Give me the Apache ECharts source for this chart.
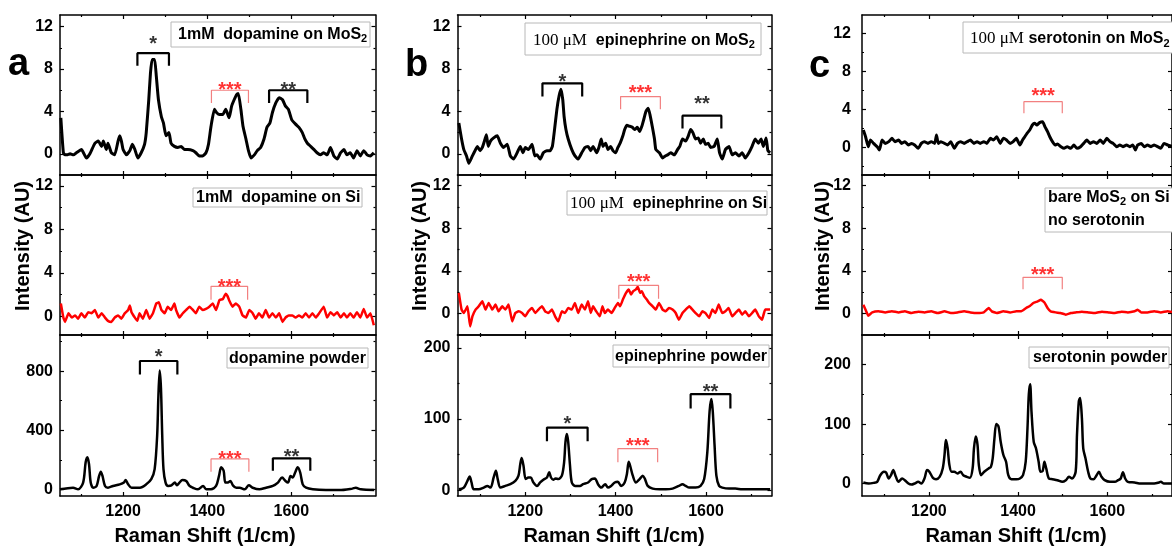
<!DOCTYPE html>
<html><head><meta charset="utf-8">
<script src="https://cdn.jsdelivr.net/npm/echarts@6/dist/echarts.min.js"></script>
<style>html,body{margin:0;padding:0;background:#fff}#c{width:1172px;height:552px}</style>
</head><body><div id="c"></div>
<script>
// ---------------- DATA ----------------
// Tick labels
const xMajorTicks = [1200, 1400, 1600];
const xMinorTicks = [1100, 1300, 1500, 1700];
const yMajorSmall = [0, 4, 8, 12];
const yMinorSmall = [-2, 2, 6, 10];
const yMajorDopPowder = [0, 400, 800];
const yMinorDopPowder = [200, 600, 1000];
const yMajorPowder = [0, 100, 200];
const yMinorPowder = [50, 150];

// (a) 1mM dopamine on MoS2
const aTopX = [1052,1058,1062,1066,1074,1082,1089,1101,1113,1121,
1133,1141,1149,1153,1160,1164,1172,1180,1188,1192,
1196,1200,1208,1216,1222,1228,1235,1243,1251,1255,
1261,1265,1269,1275,1279,1284,1291,1296,1302,1309,
1314,1322,1330,1338,1346,1354,1366,1373,1381,1389,
1397,1403,1409,1417,1422,1429,1437,1444,1452,1458,
1464,1470,1474,1480,1485,1492,1498,1504,1512,1519,
1527,1535,1542,1549,1555,1563,1571,1579,1586,1593,
1601,1610,1618,1626,1632,1638,1646,1654,1661,1669,
1677,1685,1693,1701,1709,1717,1725,1732,1740,1748,
1756,1764,1772,1780,1788,1796];
const aTopY = [3.4,0.1,-0.1,-0.1,0.0,-0.1,0.1,0.4,-0.4,0.0,
1.0,1.2,0.7,1.2,0.4,1.0,0.1,-0.1,1.2,1.7,
1.2,0.4,-0.1,0.3,0.9,0.4,-0.4,0.1,0.9,2.0,
5.1,7.6,8.9,8.9,7.3,5.1,3.5,2.9,1.7,2.0,
1.0,0.7,0.6,0.7,0.4,0.4,0.3,0.1,-0.2,-0.2,
0.1,0.9,2.6,4.2,3.9,3.7,3.7,4.2,3.4,4.5,
5.1,5.6,5.7,4.2,2.6,1.4,0.3,-0.4,-0.1,0.3,
0.6,1.4,2.5,2.9,3.9,4.8,5.3,5.1,4.5,4.2,
3.2,2.8,2.5,2.0,1.4,1.0,0.7,0.4,0.1,-0.1,
0.1,-0.1,0.6,-0.2,-0.5,0.1,0.4,-0.1,0.1,-0.4,
0.3,-0.2,0.3,-0.1,-0.2,0.1];

// (a) 1mM dopamine on Si
const aMidX = [1052,1058,1062,1070,1078,1086,1093,1101,1109,1117,
1125,1133,1141,1149,1157,1164,1172,1180,1188,1196,
1204,1212,1216,1220,1228,1234,1239,1247,1255,1263,
1271,1279,1285,1291,1299,1306,1314,1322,1326,1334,
1342,1350,1358,1366,1373,1381,1389,1397,1405,1413,
1421,1429,1437,1444,1448,1452,1460,1468,1476,1484,
1492,1500,1508,1515,1523,1531,1539,1547,1555,1563,
1571,1579,1586,1594,1602,1610,1618,1626,1634,1642,
1650,1658,1666,1677,1685,1693,1701,1709,1717,1725,
1732,1740,1748,1756,1764,1772,1780,1788,1796];
const aMidY = [1.2,-0.1,-0.5,0.3,-0.1,0.1,-0.2,0.3,-0.1,0.4,
0.3,0.6,-0.1,0.3,-0.1,-0.4,-0.5,-0.1,0.1,-0.2,
0.3,0.6,1.0,0.4,-0.1,-0.4,0.3,-0.2,0.6,-0.2,
0.3,1.2,1.3,0.6,0.3,0.9,0.6,1.2,0.6,-0.1,
0.3,0.6,0.9,0.6,0.3,0.9,0.6,0.7,0.9,1.2,
0.6,1.5,1.6,2.1,1.9,1.5,0.9,1.2,0.9,0.1,
-0.1,0.6,0.3,-0.2,0.3,-0.1,0.6,-0.1,0.3,-0.1,
0.3,-0.5,-0.1,0.1,0.1,-0.1,0.1,-0.1,0.3,-0.1,
0.3,-0.1,0.3,0.9,-0.1,0.4,0.1,0.4,-0.1,0.3,
-0.1,0.3,-0.1,0.4,-0.1,0.7,-0.1,0.3,-0.8];

// (a) dopamine powder
const aBotX = [1050,1081,1093,1105,1111,1115,1119,1123,1129,1137,
1143,1147,1151,1157,1164,1176,1192,1202,1206,1212,
1220,1240,1255,1267,1275,1281,1284,1287,1290,1293,
1296,1301,1307,1315,1323,1328,1334,1341,1350,1358,
1366,1378,1390,1398,1409,1421,1428,1433,1439,1443,
1449,1455,1461,1469,1477,1489,1499,1508,1524,1540,
1556,1568,1578,1586,1592,1598,1603,1609,1615,1621,
1627,1635,1651,1682,1714,1745,1753,1765,1797];
const aBotY = [0,11,0,46,183,217,171,46,11,23,
91,119,91,23,11,23,34,46,64,34,
11,11,34,69,137,366,640,805,686,366,
137,46,23,27,46,27,46,64,57,23,
11,0,23,0,0,23,91,149,126,46,
46,57,27,11,11,0,27,11,0,11,
23,46,80,57,46,91,80,114,149,114,
34,11,0,-5,-5,5,11,0,-5];

// (b) 100 uM epinephrine on MoS2
const bTopX = [1053,1059,1064,1070,1075,1083,1090,1094,1100,1105,
1111,1114,1118,1123,1130,1138,1145,1152,1160,1167,
1174,1182,1189,1195,1200,1207,1215,1221,1226,1233,
1240,1248,1255,1260,1264,1270,1275,1279,1283,1286,
1290,1295,1303,1310,1317,1325,1332,1339,1345,1350,
1358,1363,1368,1372,1378,1383,1389,1394,1400,1405,
1410,1416,1420,1425,1431,1437,1442,1448,1453,1458,
1462,1467,1472,1476,1481,1486,1489,1497,1504,1510,
1515,1522,1530,1537,1542,1548,1555,1561,1566,1571,
1577,1583,1588,1594,1599,1605,1610,1618,1625,1630,
1636,1643,1651,1658,1665,1673,1680,1687,1695,1702,
1709,1716,1722,1727,1733,1737,1742];
const bTopY = [2.9,1.4,0.4,-0.2,-0.9,-0.2,0.4,0.7,0.3,0.6,
1.4,1.8,0.7,1.2,1.5,1.7,1.0,0.6,0.9,-0.2,
-0.5,0.1,0.7,0.1,0.6,0.4,0.9,-0.2,-0.1,-0.5,
0.1,0.3,0.3,0.7,2.0,4.2,5.5,6.1,5.1,3.5,
2.3,1.4,0.4,-0.2,-0.5,0.1,0.6,0.7,0.3,0.7,
0.1,0.6,1.4,0.7,1.0,0.4,0.7,0.3,0.1,0.6,
1.0,1.7,2.3,2.7,2.6,2.5,2.3,2.5,2.1,2.6,
3.2,4.0,4.3,3.7,2.6,1.4,0.4,0.1,-0.4,-0.2,
-0.1,0.1,-0.1,0.4,0.7,1.4,1.2,1.7,2.3,2.0,
1.4,1.5,1.0,1.4,0.9,1.0,0.6,0.7,1.4,0.1,
-0.5,0.4,0.7,-0.1,0.1,-0.2,0.1,-0.4,0.1,0.7,
1.4,1.0,1.4,0.7,1.5,0.3,0.1];

// (b) 100 uM epinephrine on Si
const bMidX = [1053,1059,1064,1072,1078,1083,1090,1097,1105,1112,
1119,1127,1134,1141,1149,1156,1163,1171,1178,1185,
1193,1200,1207,1215,1222,1229,1237,1244,1251,1259,
1266,1273,1281,1288,1295,1303,1310,1317,1325,1332,
1339,1345,1350,1357,1365,1371,1376,1383,1391,1398,
1405,1410,1416,1423,1429,1434,1439,1445,1449,1454,
1458,1463,1469,1474,1482,1489,1496,1504,1511,1518,
1526,1533,1540,1548,1555,1563,1570,1577,1585,1592,
1599,1607,1614,1621,1628,1636,1643,1650,1658,1665,
1673,1680,1687,1695,1702,1709,1717,1724,1731,1742];
const bMidY = [1.95,0.38,0.06,0.69,-1.2,-0.25,0.38,0.69,1.17,0.38,
1.01,0.38,0.85,0.22,0.69,0.38,0.85,-0.72,0.06,0.22,
0.06,-0.25,0.22,0.54,0.06,0.38,0.69,0.22,0.06,0.38,
-0.25,-0.72,0.22,0.06,0.54,0.38,1.01,0.06,0.85,0.38,
1.17,0.06,0.69,0.22,-0.25,0.69,0.06,0.38,0.06,0.54,
1.01,0.69,1.32,1.95,2.27,1.8,2.11,2.27,2.52,1.95,
2.11,1.64,1.32,1.01,0.69,0.38,1.01,0.38,0.22,0.54,
0.38,0.06,-0.57,0.06,0.38,0.69,0.38,0.06,-0.25,0.22,
0.06,-0.41,0.38,0.06,0.85,0.06,0.22,0.54,-0.25,0.06,
0.38,-0.09,0.22,-0.25,0.06,0.38,-0.25,-0.57,0.38,0.38];

// (b) epinephrine powder
const bBotX = [1053,1064,1072,1077,1081,1086,1097,1108,1116,1123,
1130,1135,1139,1145,1156,1167,1178,1185,1189,1192,
1196,1201,1207,1212,1218,1226,1233,1240,1248,1253,
1257,1262,1267,1273,1281,1286,1289,1292,1295,1299,
1303,1310,1321,1328,1339,1347,1354,1361,1368,1377,
1383,1390,1398,1405,1412,1420,1425,1429,1432,1438,
1445,1453,1460,1465,1471,1482,1497,1511,1526,1540,
1548,1555,1563,1577,1588,1596,1603,1608,1612,1615,
1619,1623,1629,1636,1651,1665,1680,1709,1742];
const bBotY = [1.4,3.8,13.3,19.5,11,1.4,1.4,3.8,6.2,3.8,
18,27.6,15.7,3.8,6.2,8.6,13.3,20.5,37.1,45.2,
34.8,15.7,18,18,11,6.2,11,14.8,18,25.2,
18,14.8,16.7,15.7,20.5,39.5,68,79,68,34.8,
11,6.2,6.2,8.6,11,15.7,16.7,8.6,3.8,8.6,
3.8,6.2,11,11.9,6.2,11,22.9,40,34.8,20.5,
11,15.7,20.5,15.7,6.2,2.4,1.4,1.4,2.4,6.2,
8.6,6.2,3.8,3.8,6.2,15.7,54,111,128,111,
63,20.5,6.2,3.8,2.4,2.4,1.4,1.4,1.4];

// (c) 100 uM serotonin on MoS2
const cTopX = [1053,1058,1064,1069,1076,1084,1089,1095,1102,1110,
1117,1124,1132,1139,1146,1154,1161,1168,1176,1183,
1190,1198,1205,1213,1217,1221,1227,1235,1242,1249,
1257,1264,1271,1279,1286,1293,1301,1308,1315,1323,
1330,1338,1345,1352,1360,1367,1374,1382,1389,1396,
1404,1410,1415,1420,1426,1432,1437,1442,1448,1455,
1460,1466,1471,1477,1483,1488,1496,1503,1510,1518,
1525,1532,1540,1547,1554,1562,1569,1576,1584,1591,
1599,1606,1613,1621,1628,1635,1643,1650,1657,1663,
1668,1676,1683,1690,1698,1705,1713,1720,1727,1735,
1745];
const cTopY = [1.82,1.12,0.07,0.77,0.42,0.07,-0.28,0.77,0.42,0.6,
0.95,0.6,0.77,0.42,0.6,0.25,0.42,0.25,-0.1,0.42,
0.6,0.42,0.6,0.42,1.3,0.42,0.6,0.42,0.25,0.6,
-0.1,0.42,0.6,0.42,0.6,0.77,0.42,0.6,0.42,0.6,
0.42,0.95,0.77,1.12,0.42,0.95,0.77,0.42,0.6,0.95,
0.25,0.77,1.12,1.47,1.82,2.35,2.53,2.35,2.6,2.7,
2.18,1.65,1.12,0.6,0.25,0.35,0.07,-0.1,0.07,-0.1,
0.25,-0.1,0.07,0.42,0.77,0.42,0.6,0.42,0.77,0.42,
0.95,0.6,0.42,0.07,0.25,0.07,0.25,0.07,0.25,-0.28,
0.25,0.42,0.07,0.25,0.07,0.25,0.07,-0.1,0.42,0.25,
0.1];

// (c) bare MoS2 on Si, no serotonin
const cMidX = [1053,1058,1064,1073,1087,1102,1117,1132,1146,1161,
1176,1190,1205,1220,1235,1249,1264,1279,1293,1308,
1323,1334,1341,1352,1367,1382,1396,1407,1418,1427,
1434,1444,1451,1459,1466,1473,1484,1495,1507,1518,
1529,1543,1558,1573,1588,1603,1617,1632,1646,1661,
1668,1676,1690,1705,1720,1735,1745];
const cMidY = [0.84,0.37,-0.19,0.12,0.22,0.12,0.22,0.12,0.22,0.06,
0.19,0.12,0.22,0.06,0.22,0.06,0.12,0.22,0.12,0.06,
0.12,0.53,0.22,0.06,0.22,0.12,0.22,0.22,0.53,0.74,
1.0,1.15,1.3,1.05,0.53,0.22,0.12,0.06,-0.09,0.06,
0.12,0.19,0.12,0.06,0.19,0.12,0.06,0.19,0.12,0.22,
0.37,0.12,0.12,0.22,0.12,0.22,0.15];

// (c) serotonin powder
const cBotX = [1053,1065,1076,1084,1091,1099,1104,1110,1115,1120,
1126,1132,1140,1146,1154,1161,1168,1176,1183,1190,
1196,1201,1209,1216,1224,1231,1235,1238,1242,1246,
1251,1257,1264,1271,1277,1285,1292,1298,1301,1305,
1309,1312,1317,1324,1334,1339,1343,1347,1351,1356,
1361,1367,1373,1378,1385,1396,1404,1411,1417,1421,
1424,1427,1430,1435,1440,1446,1450,1455,1459,1463,
1469,1477,1488,1499,1507,1514,1521,1529,1532,1536,
1539,1543,1546,1551,1557,1562,1569,1576,1581,1587,
1594,1606,1617,1624,1630,1635,1640,1646,1661,1675,
1690,1705,1716,1720,1727,1735,1745];
const cBotY = [1.7,0,1.1,2.8,14,19.8,18.6,8.5,14,22.6,
11.3,2.8,8.5,5.6,0,-1.7,0,2.8,0,8.5,
22.6,19.8,9.6,7.3,11.3,25.4,48,73.4,59.3,31,
19.8,19.8,16.9,19.8,14,11.3,9.6,25.4,59.3,79,
65,31,14,19.8,25.4,28,42.4,76.3,100,96,
70,48,36.7,14,7.3,7.3,8.5,14,36.7,93,
150,167,121,70,59.3,36.7,19.8,20.9,36.7,25.4,
8.5,7.3,5.6,2.8,5.6,11.3,8.5,19.8,82,138,
144,110,59.3,42.4,19.8,8.5,7.3,14,19.8,11.3,
5.6,2.8,2.8,5.6,8.5,19,8.5,2.8,1.7,0,
0,0,1.7,2.8,0,0,0];

// Bracket annotations: [xStart, xEnd, yTop, yLegEnd, yStars, stars]
const bracketsATop = [[1234,1309,9.5,8.3,10.75,'*'],[1410,1498,6.0,4.8,6.45,'***'],[1547,1638,6.0,4.8,6.45,'**']];
const bracketsAMid = [[1409,1496,2.77,1.54,3.17,'***']];
const bracketsABot = [[1240,1329,869,777,926,'*'],[1409,1499,206,119,235,'***'],[1556,1645,210,126,247,'**']];
const bracketsBTop = [[1238,1326,6.65,5.4,7.22,'*'],[1411,1499,5.4,4.2,6.19,'***'],[1548,1634,3.6,2.4,5.1,'**']];
const bracketsBMid = [[1407,1495,2.65,1.39,3.37,'***']];
const bracketsBBot = [[1248,1338,88,69,99,'*'],[1405,1493,58.6,39.5,69,'***'],[1566,1654,135,115,145,'**']];
const bracketsCTop = [[1413,1499,4.8,3.58,5.86,'***']];
const bracketsCMid = [[1411,1499,3.41,2.29,4.09,'***']];
const bracketsCBot = [];

// ---------------- CHART ----------------
const FONT = '"Liberation Sans", Arial, sans-serif';
const SERIF = '"Liberation Serif", "Times New Roman", serif';
const zip = (xs, ys) => xs.slice(0, Math.min(xs.length, ys.length)).map((x, i) => [x, ys[i]]);

const cols = [
  { left: 60, width: 315.5, xmax: 1800, ylm: 7 },
  { left: 457.5, width: 314, xmax: 1745, ylm: 7 },
  { left: 862, width: 314, xmax: 1745, ylm: 11 }
];
const rows = [{ top: 15, height: 160 }, { top: 175, height: 160 }, { top: 335, height: 161 }];

const panels = [
  { c: 0, r: 0, ymin: -2, ymax: 13.1, maj: yMajorSmall, min: yMinorSmall, x: aTopX, y: aTopY, color: '#000', w: 3, br: bracketsATop, smooth: 0.15 },
  { c: 0, r: 1, ymin: -1.7, ymax: 13, maj: yMajorSmall, min: yMinorSmall, x: aMidX, y: aMidY, color: '#ff0000', w: 2.5, br: bracketsAMid, smooth: 0.1 },
  { c: 0, r: 2, ymin: -45, ymax: 1045, maj: yMajorDopPowder, min: yMinorDopPowder, x: aBotX, y: aBotY, color: '#000', w: 2.5, br: bracketsABot, smooth: 0.3 },
  { c: 1, r: 0, ymin: -2, ymax: 13.1, maj: yMajorSmall, min: yMinorSmall, x: bTopX, y: bTopY, color: '#000', w: 3, br: bracketsBTop, smooth: 0.15 },
  { c: 1, r: 1, ymin: -2, ymax: 13, maj: yMajorSmall, min: yMinorSmall, x: bMidX, y: bMidY, color: '#ff0000', w: 2.5, br: bracketsBMid, smooth: 0.1 },
  { c: 1, r: 2, ymin: -8, ymax: 218, maj: yMajorPowder, min: yMinorPowder, x: bBotX, y: bBotY, color: '#000', w: 2.5, br: bracketsBBot, smooth: 0.3 },
  { c: 2, r: 0, ymin: -2.9, ymax: 13.9, maj: yMajorSmall, min: yMinorSmall, x: cTopX, y: cTopY, color: '#000', w: 3, br: bracketsCTop, smooth: 0.15 },
  { c: 2, r: 1, ymin: -2, ymax: 13, maj: yMajorSmall, min: yMinorSmall, x: cMidX, y: cMidY, color: '#ff0000', w: 2.5, br: bracketsCMid, smooth: 0.1 },
  { c: 2, r: 2, ymin: -21, ymax: 250, maj: yMajorPowder, min: yMinorPowder, x: cBotX, y: cBotY, color: '#000', w: 2.5, br: bracketsCBot, smooth: 0.3 }
];

const grid = [], xAxis = [], yAxis = [], series = [];
const tickStyle = { color: '#000', width: 1.2 };
const lblStyle = { color: '#000', fontSize: 16, fontWeight: 'bold', fontFamily: FONT, formatter: v => String(v) };
const inRange = (arr, lo, hi) => arr.filter(v => v > lo && v < hi);

panels.forEach((p, gi) => {
  const col = cols[p.c], row = rows[p.r];
  grid.push({ left: col.left, top: row.top, width: col.width, height: row.height, containLabel: false });
  const xmin = 1050, xmax = col.xmax;
  const xMaj = inRange(xMajorTicks, xmin, xmax), xMin = inRange(xMinorTicks, xmin, xmax);
  const yMaj = inRange(p.maj, p.ymin, p.ymax), yMin = inRange(p.min, p.ymin, p.ymax);
  const showX = p.r === 2;
  ['bottom', 'top'].forEach(pos => {
    xAxis.push({ gridIndex: gi, type: 'value', position: pos, min: xmin, max: xmax, splitLine: { show: false },
      axisLine: { show: true, onZero: false, lineStyle: { color: '#000', width: 1.5 } },
      axisTick: { show: true, inside: true, length: 4, customValues: xMaj, lineStyle: tickStyle },
      axisLabel: Object.assign({ show: showX && pos === 'bottom', customValues: xMaj, margin: 8 }, lblStyle) });
    xAxis.push({ gridIndex: gi, type: 'value', position: pos, min: xmin, max: xmax, splitLine: { show: false },
      axisLine: { show: false, onZero: false },
      axisTick: { show: true, inside: true, length: 2, customValues: xMin, lineStyle: tickStyle },
      axisLabel: { show: false } });
  });
  ['left', 'right'].forEach(pos => {
    yAxis.push({ gridIndex: gi, type: 'value', position: pos, min: p.ymin, max: p.ymax, splitLine: { show: false },
      axisLine: { show: true, onZero: false, lineStyle: { color: '#000', width: 1.5 } },
      axisTick: { show: true, inside: true, length: 4, customValues: yMaj, lineStyle: tickStyle },
      axisLabel: Object.assign({ show: pos === 'left', customValues: yMaj, margin: col.ylm }, lblStyle) });
    yAxis.push({ gridIndex: gi, type: 'value', position: pos, min: p.ymin, max: p.ymax, splitLine: { show: false },
      axisLine: { show: false, onZero: false },
      axisTick: { show: true, inside: true, length: 2, customValues: yMin, lineStyle: tickStyle },
      axisLabel: { show: false } });
  });
  const xi = gi * 4, yi = gi * 4;
  series.push({ type: 'line', xAxisIndex: xi, yAxisIndex: yi, data: zip(p.x, p.y), symbol: 'none', smooth: p.smooth,
    lineStyle: { color: p.color, width: p.w, join: 'round' }, silent: true, z: 3 });
  p.br.forEach(b => {
    const red = b[5] === '***';
    series.push({ type: 'line', xAxisIndex: xi, yAxisIndex: yi, symbol: 'none', silent: true, z: 4,
      data: [[b[0], b[3]], [b[0], b[2]], [b[1], b[2]], [b[1], b[3]]],
      lineStyle: { color: red ? '#f28080' : '#000', width: red ? 1.2 : 2.2 } });
    series.push({ type: 'scatter', xAxisIndex: xi, yAxisIndex: yi, symbolSize: 1, silent: true, z: 5,
      itemStyle: { color: 'rgba(0,0,0,0)' },
      data: [[(b[0] + b[1]) / 2, b[4]]],
      label: { show: true, position: 'inside', formatter: b[5], color: red ? '#ff0000' : '#000',
        fontSize: 20, fontWeight: 'bold', fontFamily: FONT, offset: [0, 5] } });
  });
});

// ---------------- TEXT (panel letters, axis titles, sample boxes) ----------------
const RICH = {
  b: { fontSize: 16, fontWeight: 'bold', fontFamily: FONT, fill: '#000', lineHeight: 20 },
  s: { fontSize: 11, fontWeight: 'bold', fontFamily: FONT, fill: '#000', lineHeight: 11, verticalAlign: 'bottom' },
  r: { fontSize: 17, fontWeight: 'normal', fontFamily: SERIF, fill: '#000', lineHeight: 20 }
};
const graphic = [];
function box(x, y, w, h) {
  graphic.push({ type: 'rect', z: 20, shape: { x: x, y: y, width: w, height: h },
    style: { fill: '#fff', stroke: '#b8b8b8', lineWidth: 1 } });
}
function txt(x, y, text) {
  graphic.push({ type: 'text', z: 21, x: x, y: y,
    style: { text: text, rich: RICH, align: 'left', verticalAlign: 'middle', fill: '#000', font: 'bold 16px ' + FONT } });
}
box(171, 22, 199, 25); txt(178, 34.5, '{b|1mM  dopamine on MoS}{s|2}');
box(193, 188, 169, 19); txt(196, 197.5, '{b|1mM  dopamine on Si}');
box(227, 348, 141, 20); txt(229, 358.5, '{b|dopamine powder}');
box(525, 23, 236, 32); txt(533, 40.5, '{r|100 μM}{b|  epinephrine on MoS}{s|2}');
box(567, 191, 200, 24); txt(570, 203.5, '{r|100 μM}{b|  epinephrine on Si}');
box(613, 345, 156, 22); txt(615, 357, '{b|epinephrine powder}');
box(963, 22, 220, 31); txt(970, 39, '{r|100 μM}{b| serotonin on MoS}{s|2}');
box(1045, 188, 140, 44); txt(1048, 197.5, '{b|bare MoS}{s|2}{b| on Si}'); txt(1048, 220.5, '{b|no serotonin}');
box(1029, 347, 140, 21); txt(1033, 358, '{b|serotonin powder}');

[['a', 8, 65], ['b', 405, 66], ['c', 809, 67]].forEach(l => {
  graphic.push({ type: 'text', z: 21, x: l[1], y: l[2],
    style: { text: l[0], font: 'bold 38px ' + FONT, fill: '#000', align: 'left', verticalAlign: 'middle' } });
});
[23, 420, 823.5].forEach(x => {
  graphic.push({ type: 'text', z: 21, x: x, y: 246, rotation: Math.PI / 2,
    style: { text: 'Intensity (AU)', font: 'bold 20px ' + FONT, fill: '#000', align: 'center', verticalAlign: 'middle' } });
});
[205, 614, 1016].forEach(x => {
  graphic.push({ type: 'text', z: 21, x: x, y: 536,
    style: { text: 'Raman Shift (1/cm)', font: 'bold 20px ' + FONT, fill: '#000', align: 'center', verticalAlign: 'middle' } });
});

const chart = echarts.init(document.getElementById('c'), null, { renderer: 'canvas' });
chart.setOption({
  animation: false,
  backgroundColor: '#fff',
  grid: grid, xAxis: xAxis, yAxis: yAxis, series: series, graphic: graphic
});
</script></body></html>
